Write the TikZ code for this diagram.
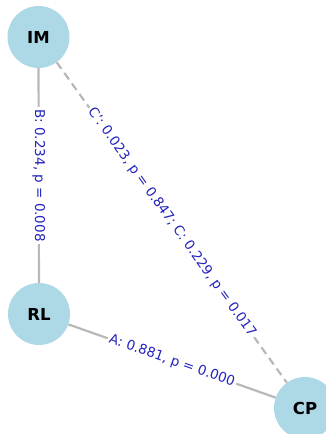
\documentclass[tikz,border=0pt]{standalone}
\usepackage{fontspec}
\setmainfont{DejaVu Sans}
\definecolor{nodeblue}{HTML}{ADD8E6}
\definecolor{edgegray}{HTML}{B8B8B8}
\definecolor{lblblue}{RGB}{35,35,190}
\begin{document}
\begin{tikzpicture}[x=1pt,y=1pt,
  vert/.style={circle,fill=nodeblue,minimum size=62pt,inner sep=0pt,font=\fontsize{16.5}{18}\selectfont\bfseries},
  edgeline/.style={draw=edgegray,line width=2.2pt},
  edgedash/.style={edgeline,dash pattern=on 8pt off 5pt},
  elabel/.style={fill=white,inner sep=2pt,text=lblblue,font=\fontsize{13.5}{15}\selectfont}]
\useasboundingbox (0,0) rectangle (325,434);
\node[vert] (IM) at (38.5,397) {IM};
\node[vert] (RL) at (39,120) {RL};
\node[vert] (CP) at (305,26) {CP};
\draw[edgeline] (IM) -- node[elabel,rotate=-90] {B: 0.234, p = 0.008} (RL);
\draw[edgedash] (IM) -- node[elabel,sloped] {C': 0.023, p = 0.847; C: 0.229, p = 0.017} (CP);
\draw[edgeline] (RL) -- node[elabel,sloped] {A: 0.881, p = 0.000} (CP);
\end{tikzpicture}
\end{document}
